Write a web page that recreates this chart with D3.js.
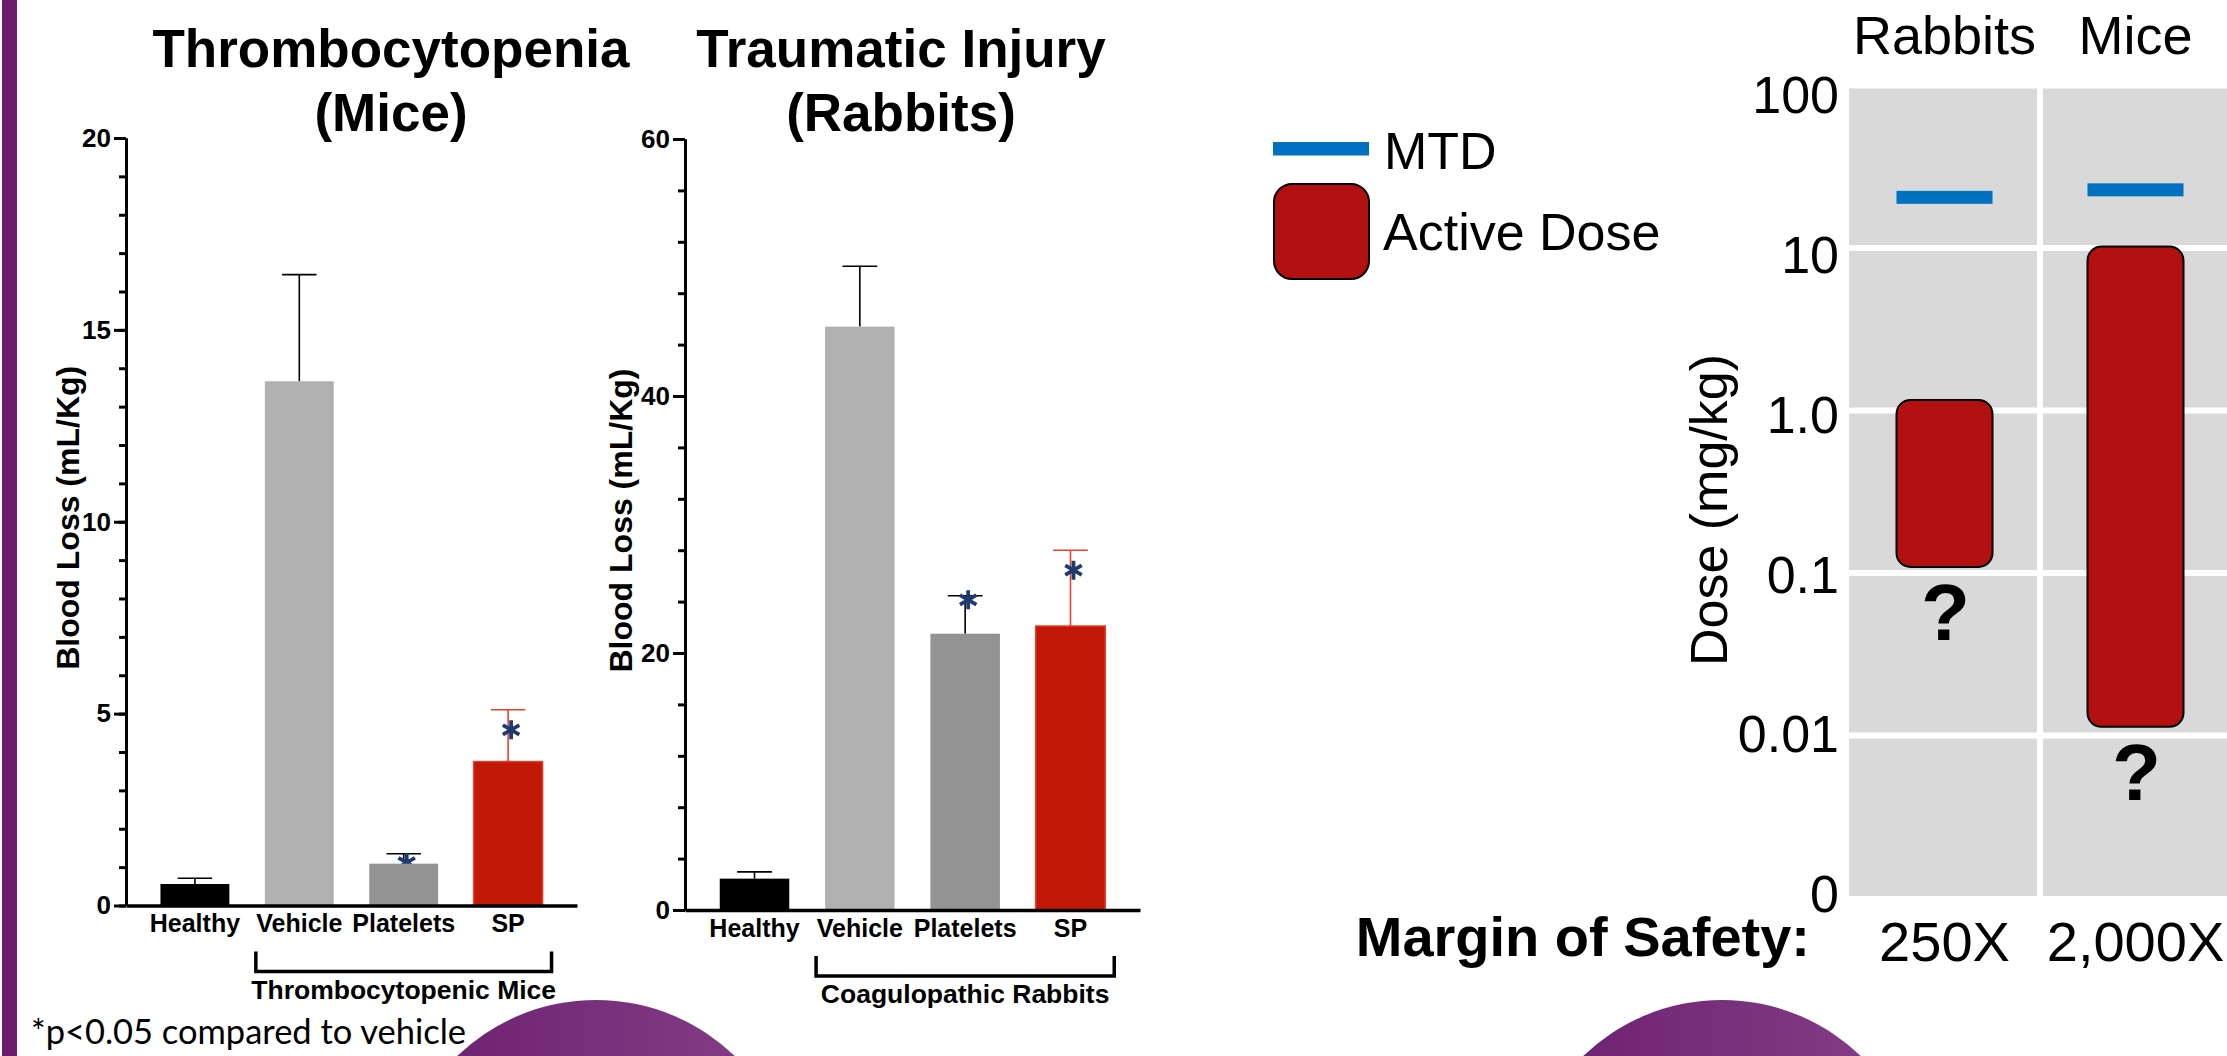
<!DOCTYPE html>
<html>
<head>
<meta charset="utf-8">
<script src="https://cdn.jsdelivr.net/npm/d3@7"></script>
<style>
  body { margin: 0; background: #fff; }
  svg { display: block; font-family: "Liberation Sans", Arial, sans-serif; }
</style>
</head>
<body>
<svg width="2227" height="1056"></svg>
<script>
// bar charts: blood loss (mL/Kg), mean and SEM
const groups = ["Healthy", "Vehicle", "Platelets", "SP"];
const miceLoss = [0.56, 13.66, 1.09, 3.75];
const miceSem = [0.15, 2.78, 0.26, 1.35];
const miceSig = [false, false, true, true];
const miceTicks = [0, 5, 10, 15, 20];
const rabbitLoss = [2.44, 45.4, 21.5, 22.1];
const rabbitSem = [0.53, 4.7, 2.95, 5.9];
const rabbitSig = [false, false, true, true];
const rabbitTicks = [0, 20, 40, 60];

// dose chart (mg/kg, log scale)
const species = ["Rabbits", "Mice"];
const mtd = [20.5, 22.8];
const activeLow = [0.109, 0.0113];
const activeHigh = [1.16, 10.2];
const safety = ["250X", "2,000X"];
const doseTicks = [0.001, 0.01, 0.1, 1, 10, 100];
const doseTickLabels = ["0", "0.01", "0.1", "1.0", "10", "100"];

const barColor = d3.scaleOrdinal(groups, ["#000000", "#b0b0b1", "#939393", "#c21807"]);
const errColor = d3.scaleOrdinal(groups, ["#000", "#000", "#000", "#e8412f"]);
const starColor = "#1f3a70";

const svg = d3.select("svg");

// slide decoration
const defs = svg.append("defs");
const grad = defs.append("linearGradient").attr("id", "purp");
grad.append("stop").attr("offset", "0%").attr("stop-color", "#6a1f70");
grad.append("stop").attr("offset", "100%").attr("stop-color", "#874087");

svg.append("rect").attr("x", 2).attr("y", 0).attr("width", 15).attr("height", 1056).attr("fill", "#6c1a6b");
[596, 1722].forEach(cx => {
  svg.append("circle").attr("cx", cx).attr("cy", 1200).attr("r", 200).attr("fill", "url(#purp)");
});

function starPath(cx, cy, r) {
  const c = r * Math.cos(Math.PI / 6), s = r * Math.sin(Math.PI / 6);
  return `M${cx},${cy - r}L${cx},${cy + r}M${cx - c},${cy - s}L${cx + c},${cy + s}M${cx - c},${cy + s}L${cx + c},${cy - s}`;
}

function barChart(opt) {
  const g = svg.append("g");
  const x = d3.scaleBand().domain(groups).range([opt.left, opt.right])
    .paddingInner(0.34).paddingOuter(0.33);
  const y = d3.scaleLinear().domain([0, opt.max]).range([opt.bottom, opt.top]);
  const rows = groups.map((k, i) => ({ k, i, v: opt.loss[i], e: opt.sem[i], sig: opt.sig[i] }));
  const bw = x.bandwidth();

  // error bars and stars behind the bars
  rows.forEach(d => {
    const cx = x(d.k) + bw / 2;
    const top = y(d.v + d.e);
    g.append("line").attr("x1", cx).attr("x2", cx).attr("y1", y(d.v)).attr("y2", top)
      .attr("stroke", errColor(d.k)).attr("stroke-width", 1.6);
    g.append("line").attr("x1", cx - bw / 4).attr("x2", cx + bw / 4).attr("y1", top).attr("y2", top)
      .attr("stroke", errColor(d.k)).attr("stroke-width", 1.6);
    if (d.sig) {
      g.append("path").attr("d", starPath(cx + 3, top + opt.starOffset[d.i], 9.5))
        .attr("stroke", starColor).attr("stroke-width", 3.8).attr("fill", "none");
    }
  });

  g.selectAll("rect.bar").data(rows).join("rect")
    .attr("class", "bar")
    .attr("x", d => x(d.k))
    .attr("y", d => y(d.v))
    .attr("width", bw)
    .attr("height", d => y(0) - y(d.v))
    .attr("fill", d => barColor(d.k))
    .attr("stroke", d => d.k === "SP" ? "#ea3a22" : "none")
    .attr("stroke-width", 1.5);

  // minor ticks
  g.append("g").attr("transform", `translate(${opt.left},0)`)
    .call(d3.axisLeft(y).tickValues(d3.range(0, opt.max + 0.001, opt.minor)).tickSize(7).tickSizeOuter(0).tickFormat(""))
    .call(a => a.selectAll("line").attr("stroke-width", 3))
    .call(a => a.select(".domain").attr("stroke-width", 3));
  // major ticks
  g.append("g").attr("transform", `translate(${opt.left},0)`)
    .call(d3.axisLeft(y).tickValues(opt.ticks).tickSize(12).tickSizeOuter(0).tickPadding(3))
    .call(a => a.selectAll("line").attr("stroke-width", 3))
    .call(a => a.select(".domain").attr("stroke-width", 3))
    .call(a => a.selectAll("text").attr("font-size", 26).attr("font-weight", "bold")
      .attr("font-family", "Liberation Sans, Arial, sans-serif").attr("fill", "#000"));

  g.append("g").attr("transform", `translate(0,${opt.bottom})`)
    .call(d3.axisBottom(x).tickSize(0).tickSizeOuter(0).tickPadding(9))
    .call(a => a.select(".domain").attr("stroke-width", 3.5))
    .call(a => a.selectAll("text").attr("font-size", 25).attr("font-weight", "bold")
      .attr("font-family", "Liberation Sans, Arial, sans-serif").attr("fill", "#000"));

  // bracket under treated groups
  const bx1 = x("Vehicle") - 9, bx2 = x("SP") + bw + 9;
  const bt = opt.bottom + 46, bb = opt.bottom + 66;
  g.append("path").attr("d", `M${bx1},${bt}V${bb}H${bx2}V${bt}`)
    .attr("fill", "none").attr("stroke", "#000").attr("stroke-width", 3.5);
  g.append("text").attr("x", (bx1 + bx2) / 2).attr("y", opt.bottom + 93)
    .attr("text-anchor", "middle").attr("font-size", 26.5).attr("font-weight", "bold")
    .text(opt.bracketLabel);

  // y axis title
  g.append("text").attr("transform", `translate(${opt.yLabelX},${(opt.top + opt.bottom) / 2 - 4}) rotate(-90)`)
    .attr("text-anchor", "middle").attr("font-size", 32).attr("font-weight", "bold")
    .text("Blood Loss (mL/Kg)");

  // title
  const t = g.append("text").attr("text-anchor", "middle").attr("font-size", 53).attr("font-weight", "bold");
  t.append("tspan").attr("x", opt.titleX).attr("y", 67).text(opt.title[0]);
  t.append("tspan").attr("x", opt.titleX).attr("y", 131).text(opt.title[1]);
}

barChart({
  loss: miceLoss, sem: miceSem, sig: miceSig, ticks: miceTicks, max: 20, minor: 1,
  left: 126, right: 577, top: 138, bottom: 905.5, starOffset: [0, 0, 9, 20],
  title: ["Thrombocytopenia", "(Mice)"], titleX: 391, yLabelX: 79,
  bracketLabel: "Thrombocytopenic Mice"
});
barChart({
  loss: rabbitLoss, sem: rabbitSem, sig: rabbitSig, ticks: rabbitTicks, max: 60, minor: 4,
  left: 685, right: 1140, top: 139, bottom: 910, starOffset: [0, 0, 4, 20],
  title: ["Traumatic Injury", "(Rabbits)"], titleX: 901, yLabelX: 632,
  bracketLabel: "Coagulopathic Rabbits"
});

svg.append("text").attr("x", 31).attr("y", 1044)
  .attr("font-family", "Lato, 'Open Sans', sans-serif").attr("font-size", 34)
  .attr("textLength", 435).attr("lengthAdjust", "spacingAndGlyphs")
  .text("*p<0.05 compared to vehicle");

// ---- dose chart ----
const xs = d3.scaleBand().domain(species).range([1849, 2231]);
const yLog = d3.scaleLog().domain([0.001, 100]).range([898, 85.5]);
// the tick text sits on its own slightly tighter ladder
const yLabel = d3.scaleLog().domain([0.001, 100]).range([894, 95]);
const dg = svg.append("g");

dg.append("rect").attr("x", 1849).attr("y", yLog(100) + 3)
  .attr("width", 2231 - 1849).attr("height", yLog(0.001) - yLog(100) - 5)
  .attr("fill", "#d9d9d9");
dg.selectAll("line.grid").data(doseTicks.slice(1, 5)).join("line")
  .attr("class", "grid")
  .attr("x1", 1849).attr("x2", 2231)
  .attr("y1", d => yLog(d)).attr("y2", d => yLog(d))
  .attr("stroke", "#fff").attr("stroke-width", 6);
dg.append("line").attr("x1", xs("Mice")).attr("x2", xs("Mice"))
  .attr("y1", yLog(100)).attr("y2", yLog(0.001))
  .attr("stroke", "#fff").attr("stroke-width", 6);

dg.selectAll("text.ytick").data(doseTicks).join("text")
  .attr("class", "ytick")
  .attr("x", 1839).attr("y", d => yLabel(d)).attr("dy", "0.35em")
  .attr("text-anchor", "end").attr("font-size", 52)
  .text((d, i) => doseTickLabels[i]);

dg.append("text").attr("transform", `translate(1727,510) rotate(-90)`)
  .attr("text-anchor", "middle").attr("font-size", 52).text("Dose (mg/kg)");

species.forEach((s, i) => {
  const cx = xs(s) + xs.bandwidth() / 2;
  dg.append("text").attr("x", cx).attr("y", 54).attr("text-anchor", "middle")
    .attr("font-size", 54).text(s);
  dg.append("rect").attr("x", cx - 48).attr("width", 96)
    .attr("y", yLog(activeHigh[i])).attr("height", yLog(activeLow[i]) - yLog(activeHigh[i]))
    .attr("rx", 14).attr("fill", "#b31111").attr("stroke", "#000").attr("stroke-width", 2);
  dg.append("rect").attr("x", cx - 48).attr("width", 96)
    .attr("y", yLog(mtd[i]) - 6.5).attr("height", 13).attr("fill", "#0070c0");
  dg.append("text").attr("x", cx + 1).attr("y", yLog(activeLow[i]) + 73)
    .attr("text-anchor", "middle").attr("font-size", 80).attr("font-weight", "bold").text("?");
  dg.append("text").attr("x", cx).attr("y", 961).attr("text-anchor", "middle")
    .attr("font-size", 56).text(safety[i]);
});

dg.append("text").attr("x", 1810).attr("y", 956).attr("text-anchor", "end")
  .attr("font-size", 56).attr("font-weight", "bold").text("Margin of Safety:");

// legend
const lg = svg.append("g");
lg.append("rect").attr("x", 1273).attr("y", 142).attr("width", 96).attr("height", 13.5).attr("fill", "#0070c0");
lg.append("text").attr("x", 1384).attr("y", 169).attr("font-size", 52).text("MTD");
lg.append("rect").attr("x", 1274).attr("y", 184).attr("width", 95).attr("height", 95).attr("rx", 18)
  .attr("fill", "#b31111").attr("stroke", "#000").attr("stroke-width", 2);
lg.append("text").attr("x", 1383).attr("y", 250).attr("font-size", 52).text("Active Dose");
</script>
</body>
</html>
